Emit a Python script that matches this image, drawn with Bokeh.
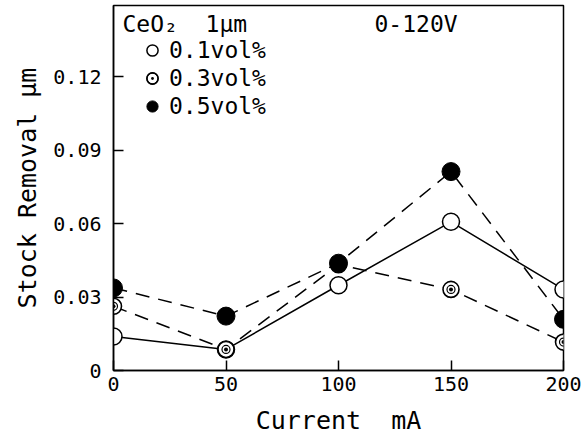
from bokeh.plotting import figure
from bokeh.models import Range1d, FixedTicker, Legend, LegendItem, Label
from bokeh.embed import file_html
from bokeh.resources import INLINE

current = [0, 50, 100, 150, 200]
vol01 = [0.0139, 0.0086, 0.0348, 0.0607, 0.0331]
vol03 = [0.0262, 0.0086, 0.0432, 0.0331, 0.0116]
vol05 = [0.0337, 0.0222, 0.0438, 0.0812, 0.0209]

x_ticks = [0, 50, 100, 150, 200]
y_ticks = [0, 0.03, 0.06, 0.09, 0.12]
y_tick_labels = {0: "0", 0.03: "0.03", 0.06: "0.06", 0.09: "0.09", 0.12: "0.12"}

FONT = "DejaVu Sans Mono"
NBSP = "\u00a0"

p = figure(width=586, height=441, output_backend="svg", toolbar_location=None,
           x_range=Range1d(0, 200), y_range=Range1d(0, 0.149),
           min_border_left=113, min_border_right=23, min_border_top=5, min_border_bottom=71)

p.xgrid.visible = False
p.ygrid.visible = False
p.outline_line_color = "black"
p.outline_line_width = 1.5
p.background_fill_color = "white"
p.border_fill_color = "white"

for ax in (p.xaxis[0], p.yaxis[0]):
    ax.axis_line_width = 1.5
    ax.axis_line_color = "black"
    ax.major_tick_in = 10
    ax.major_tick_out = 0
    ax.major_tick_line_width = 1.5
    ax.minor_tick_line_color = None
    ax.major_label_text_font = FONT
    ax.major_label_text_font_size = "20px"
    ax.major_label_text_color = "black"
    ax.axis_label_text_font = FONT
    ax.axis_label_text_font_size = "25px"
    ax.axis_label_text_font_style = "normal"
    ax.axis_label_text_color = "black"

p.xaxis.ticker = FixedTicker(ticks=x_ticks)
p.yaxis.ticker = FixedTicker(ticks=y_ticks)
p.yaxis.major_label_overrides = y_tick_labels
p.xaxis.axis_label = "Current" + NBSP + NBSP + "mA"
p.yaxis.axis_label = "Stock Removal" + NBSP + "µm"
p.xaxis.major_label_standoff = 6
p.yaxis.major_label_standoff = 12
p.xaxis.axis_label_standoff = 12
p.yaxis.axis_label_standoff = 8

p.line(current, vol01, line_color="black", line_width=1.5)
p.line(current, vol03, line_color="black", line_width=1.5, line_dash="14 9")
p.line(current, vol05, line_color="black", line_width=1.5, line_dash="14 9")

r1 = p.scatter(current, vol01, marker="circle", size=17, fill_color="white",
               line_color="black", line_width=1.5)
r2a = p.scatter(current, vol03, marker="circle_dot", size=16, fill_color="white",
                line_color="black", line_width=1.6)
r2b = p.scatter(current, vol03, marker="circle", size=8, fill_color=None,
                line_color="black", line_width=1.2)
r3 = p.scatter(current, vol05, marker="circle", size=18, fill_color="black",
               line_color="black", line_width=1)

legend = Legend(items=[
    LegendItem(label="0.1vol%", renderers=[r1]),
    LegendItem(label="0.3vol%", renderers=[r2a, r2b]),
    LegendItem(label="0.5vol%", renderers=[r3]),
], location=(25, 250))
legend.border_line_color = None
legend.background_fill_alpha = 0
legend.padding = 0
legend.margin = 0
legend.spacing = 0
legend.label_text_font = FONT
legend.label_text_font_size = "23px"
legend.label_text_color = "black"
legend.label_height = 27
legend.glyph_height = 28
legend.glyph_width = 28
legend.label_standoff = 3
p.add_layout(legend)

p.add_layout(Label(x=4, y=0.1415, text="CeO₂" + NBSP + NBSP + "1µm", text_font=FONT,
                   text_font_size="23px", text_baseline="middle", text_color="black"))
p.add_layout(Label(x=116, y=0.1415, text="0-120V", text_font=FONT,
                   text_font_size="23px", text_baseline="middle", text_color="black"))

open("out.html", "w").write(file_html(p, INLINE))
